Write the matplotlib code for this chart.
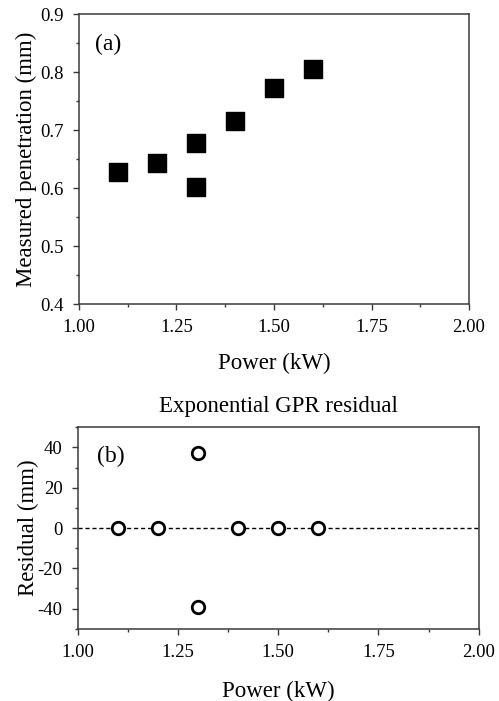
import matplotlib
matplotlib.use("Agg")
import matplotlib.pyplot as plt
from matplotlib.ticker import MultipleLocator, FormatStrFormatter

plt.rcParams["font.family"] = ["Liberation Serif", "DejaVu Serif"]
plt.rcParams["axes.unicode_minus"] = False

# panel (a): measured penetration
power_a = [1.10, 1.20, 1.30, 1.30, 1.40, 1.50, 1.60]
penetration = [0.628, 0.644, 0.677, 0.601, 0.716, 0.773, 0.805]

# panel (b): exponential GPR residual
power_b = [1.10, 1.20, 1.30, 1.30, 1.40, 1.50, 1.60]
residual = [0.0, 0.0, 37.5, -39.2, 0.0, 0.0, 0.0]

SPINE = "#3a3a3a"
LABEL_FS = 16.5
TICK_FS = 13.5

fig = plt.figure(figsize=(4.99, 7.01), dpi=100)
ax1 = fig.add_axes([0.1583, 0.5663, 0.7816, 0.4137])
ax2 = fig.add_axes([0.1557, 0.1031, 0.8036, 0.2873])


def style(ax):
    for s in ax.spines.values():
        s.set_color(SPINE)
        s.set_linewidth(1.1)
    ax.tick_params(which="major", direction="out", length=4, width=1, color=SPINE,
                   labelsize=TICK_FS, pad=7)
    ax.tick_params(which="minor", direction="out", length=2, width=1, color=SPINE)
    ax.tick_params(top=False, right=False)
    ax.xaxis.set_major_locator(MultipleLocator(0.25))
    ax.xaxis.set_minor_locator(MultipleLocator(0.125))
    ax.xaxis.set_major_formatter(FormatStrFormatter("%.2f"))


ax1.scatter(power_a, penetration, marker="s", s=150, color="black", zorder=3)
ax1.set_xlim(1.0, 2.0)
ax1.set_ylim(0.4, 0.9)
ax1.yaxis.set_major_locator(MultipleLocator(0.1))
ax1.yaxis.set_minor_locator(MultipleLocator(0.05))
ax1.yaxis.set_major_formatter(FormatStrFormatter("%.1f"))
style(ax1)
ax1.set_xlabel("Power (kW)", fontsize=LABEL_FS, labelpad=12)
ax1.set_ylabel("Measured penetration (mm)", fontsize=LABEL_FS, labelpad=2)
ax1.text(0.042, 0.93, "(a)", transform=ax1.transAxes, fontsize=17, va="top")

ax2.axhline(0, color="black", lw=1, ls=(0, (3, 2)), zorder=1)
ax2.plot(power_b, residual, ls="none", marker="o", ms=9, mfc="white",
         mec="black", mew=2, zorder=3)
ax2.set_xlim(1.0, 2.0)
ax2.set_ylim(-50, 50)
ax2.yaxis.set_major_locator(MultipleLocator(20))
ax2.yaxis.set_minor_locator(MultipleLocator(10))
style(ax2)
ax2.set_xlabel("Power (kW)", fontsize=LABEL_FS, labelpad=14)
ax2.set_ylabel("Residual (mm)", fontsize=LABEL_FS, labelpad=-1)
ax2.set_title("Exponential GPR residual", fontsize=LABEL_FS, pad=11)
ax2.text(0.048, 0.91, "(b)", transform=ax2.transAxes, fontsize=17, va="top")

fig.savefig("out.png", dpi=100)
